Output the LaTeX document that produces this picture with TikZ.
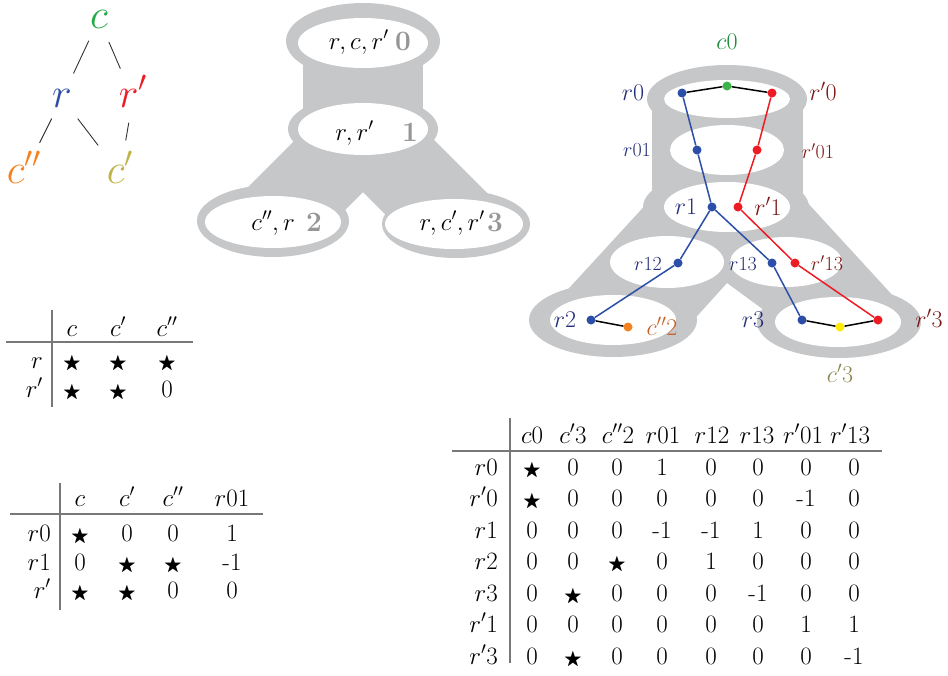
\RequirePackage{fix-cm}
\documentclass[tikz,border=0pt]{standalone}
\usepackage{amssymb}
\usepackage{graphicx}
\definecolor{mygray}{RGB}{198,199,201}
\definecolor{numgray}{RGB}{150,150,150}
\definecolor{rulegray}{RGB}{120,120,120}
\definecolor{tgreen}{RGB}{40,170,75}
\definecolor{tblue}{RGB}{45,80,165}
\definecolor{tred}{RGB}{235,30,40}
\definecolor{torange}{RGB}{245,130,32}
\definecolor{tolive}{RGB}{190,180,70}
\definecolor{navy}{RGB}{35,45,120}
\definecolor{maroon}{RGB}{125,25,25}
\definecolor{lgreen}{RGB}{30,140,60}
\definecolor{lorange}{RGB}{200,100,40}
\definecolor{lolive}{RGB}{140,135,80}
\definecolor{dblue}{RGB}{43,78,168}
\definecolor{dred}{RGB}{237,28,36}
\definecolor{dgreen}{RGB}{60,180,75}
\definecolor{dorange}{RGB}{245,130,32}
\definecolor{dyellow}{RGB}{255,235,0}
\newcommand{\mystar}{\scalebox{0.75}{$\bigstar$}}
\newcommand{\tabrow}[6]{%
  \node[tab, anchor=east] (#1) at (#3,#2) {$#4$};
  \foreach \vv [count=\j from 0] in {#6} {%
    \pgfmathsetmacro{\xx}{{#5}[\j]}%
    \node[tab] (#1-\j) at (\xx,#2) {\vv};
  }%
}
\begin{document}
\begin{tikzpicture}[x=1pt,y=-1pt,
  tree/.style={font=\fontsize{42}{46}\selectfont, inner sep=0pt, text height=18pt, text depth=0pt},
  tab/.style={font=\fontsize{25}{28}\selectfont, inner sep=0pt, text height=16pt, text depth=0pt},
  mlab/.style={font=\fontsize{25}{28}\selectfont, inner sep=0pt},
  mnum/.style={font=\fontsize{28}{30}\selectfont\bfseries, text=numgray, inner sep=0pt},
  lab/.style={font=\fontsize{24}{26}\selectfont, inner sep=0pt, text height=15pt, text depth=0pt},
  slab/.style={font=\fontsize{20}{22}\selectfont, inner sep=0pt, text height=13pt, text depth=0pt},
  dot/.style={circle, inner sep=0pt, minimum size=9pt},
  tline/.style={draw=black!80, line width=0.9pt},
  rule/.style={draw=rulegray, line width=1.1pt},
  pth/.style={line width=1.5pt}
]
\useasboundingbox (0,0) rectangle (948,675);

% ---------- tree ----------
\node[tree, text=tgreen] (tc) at (99,19) {$c$};
\node[tree, text=tblue] (tr) at (62,98) {$r$};
\node[tree, text=tred] (trp) at (133,98) {$r'$};
\node[tree, text=torange] (tcpp) at (24,174) {$c''$};
\node[tree, text=tolive] (tcp) at (120,174) {$c'$};
\draw[tline, shorten <=24pt, shorten >=27pt] (tc.center) -- (tr.center);
\draw[tline, shorten <=25pt, shorten >=32pt] (tc.center) -- (trp.center);
\draw[tline, shorten <=23pt, shorten >=35pt] (tr.center) -- (tcpp.center);
\draw[tline, shorten <=26pt, shorten >=36pt] (tr.center) -- (tcp.center);
\draw[tline, shorten <=25pt, shorten >=34pt] (trp.center) -- (tcp.center);

% ---------- middle tree decomposition ----------
\fill[mygray] (303,60) rectangle (423,115);
\fill[mygray] (300,135) -- (429,135) -- (494,200) -- (390,219) -- (363,192) -- (336,219) -- (235,200) -- cycle;
\fill[mygray] (363,41) ellipse [x radius=77pt, y radius=38pt];
\fill[mygray] (363,129) ellipse [x radius=75pt, y radius=34pt];
\fill[mygray] (273,221) ellipse [x radius=76pt, y radius=36pt];
\fill[mygray] (456,224) ellipse [x radius=74pt, y radius=34pt];
\fill[white] (363,43) ellipse [x radius=65pt, y radius=25pt];
\fill[white] (363,129) ellipse [x radius=65pt, y radius=26pt];
\fill[white] (273,222) ellipse [x radius=68pt, y radius=26pt];
\fill[white] (454,224) ellipse [x radius=69pt, y radius=25pt];
\node[mlab, anchor=base east] (b0) at (389,49) {$r,c,r'$};
\node[mnum, anchor=base west] (n0) at (395,50) {0};
\node[mlab, anchor=base east] (b1) at (374,140) {$r,r'$};
\node[mnum, anchor=base west] (n1) at (402,141) {1};
\node[mlab, anchor=base east] (b2) at (295,230) {$c'',r$};
\node[mnum, anchor=base west] (n2) at (306,231) {2};
\node[mlab, anchor=base east] (b3) at (485,230) {$r,c',r'$};
\node[mnum, anchor=base west] (n3) at (487,231) {3};

% ---------- right refined decomposition ----------
\fill[mygray] (652,95) rectangle (803,215);
\fill[mygray] (650,200) -- (805,200) -- (895,298) -- (772,316) -- (727,283) -- (690,324) -- (560,298) -- cycle;
\fill[mygray] (727,99) ellipse [x radius=80pt, y radius=34pt];
\fill[mygray] (726,207) ellipse [x radius=83pt, y radius=36pt];
\fill[mygray] (613,320) ellipse [x radius=84pt, y radius=37pt];
\fill[mygray] (839,322) ellipse [x radius=82pt, y radius=36pt];
\fill[white] (727,99) ellipse [x radius=63pt, y radius=19pt];
\fill[white] (727,150) ellipse [x radius=57pt, y radius=25pt];
\fill[white] (727,207) ellipse [x radius=63pt, y radius=25pt];
\fill[white] (667,262) ellipse [x radius=57pt, y radius=26pt];
\fill[white] (786,262) ellipse [x radius=56pt, y radius=25pt];
\fill[white] (613,320) ellipse [x radius=63pt, y radius=25pt];
\fill[white] (838,322) ellipse [x radius=63pt, y radius=25pt];

\node[dot, fill=dblue] (r0) at (682,93) {};
\node[dot, fill=dgreen] (c0) at (727,86) {};
\node[dot, fill=dred] (rp0) at (772,93) {};
\node[dot, fill=dblue] (r01) at (697,150) {};
\node[dot, fill=dred] (rp01) at (757,150) {};
\node[dot, fill=dblue] (r1) at (712,207) {};
\node[dot, fill=dred] (rp1) at (738,207) {};
\node[dot, fill=dblue] (r12) at (678,263) {};
\node[dot, fill=dblue] (r13) at (772,263) {};
\node[dot, fill=dred] (rp13) at (795,263) {};
\node[dot, fill=dblue] (r2) at (591,320) {};
\node[dot, fill=dorange] (cpp2) at (628,327) {};
\node[dot, fill=dblue] (r3) at (802,320) {};
\node[dot, fill=dyellow] (cp3) at (840,327) {};
\node[dot, fill=dred] (rp3) at (878,320) {};

\draw[pth, black] (r0) -- (c0) -- (rp0);
\draw[pth, dblue] (r0) -- (r01) -- (r1) -- (r12) -- (r2);
\draw[pth, dblue] (r1) -- (r13) -- (r3);
\draw[pth, dred] (rp0) -- (rp01) -- (rp1) -- (rp13) -- (rp3);
\draw[pth, black] (r2) -- (cpp2);
\draw[pth, black] (r3) -- (cp3) -- (rp3);

\node[lab, text=lgreen] (lc0) at (727,42) {$c0$};
\node[lab, text=navy] (lr0) at (633,93) {$r0$};
\node[lab, text=maroon] (lrp0) at (823,93) {$r'0$};
\node[slab, text=navy] (lr01) at (637,150) {$r01$};
\node[slab, text=maroon] (lrp01) at (818,152) {$r'01$};
\node[lab, text=navy] (lr1) at (686,207) {$r1$};
\node[lab, text=maroon] (lrp1) at (768,208) {$r'1$};
\node[slab, text=navy] (lr12) at (648,264) {$r12$};
\node[slab, text=navy] (lr13) at (743,264) {$r13$};
\node[slab, text=maroon] (lrp13) at (827,264) {$r'13$};
\node[lab, text=navy] (lr2) at (565,320) {$r2$};
\node[lab, text=lorange] (lcpp2) at (662,328) {$c''2$};
\node[lab, text=navy] (lr3) at (753,320) {$r3$};
\node[lab, text=maroon] (lrp3) at (929,320) {$r'3$};
\node[lab, text=lolive] (lcp3) at (840,375) {$c'3$};

% ---------- table 1 ----------
\coordinate (A1t) at (52,310); \coordinate (A1b) at (52,407);
\coordinate (A1l) at (6,342); \coordinate (A1r) at (193,342);
\draw[rule] (A1t) -- (A1b);
\draw[rule] (A1l) -- (A1r);
\node[tab] (ha1) at (72,328) {$c$};
\node[tab] (ha2) at (118,328) {$c'$};
\node[tab] (ha3) at (167,328) {$c''$};
\tabrow{ta1}{360}{43}{r}{72,118,167}{\mystar,\mystar,\mystar}
\tabrow{ta2}{389}{43}{r'}{72,118,167}{\mystar,\mystar,0}

% ---------- table 2 ----------
\coordinate (A2t) at (60,483); \coordinate (A2b) at (60,610);
\coordinate (A2l) at (10,514); \coordinate (A2r) at (263,514);
\draw[rule] (A2t) -- (A2b);
\draw[rule] (A2l) -- (A2r);
\node[tab] (hb1) at (80,498) {$c$};
\node[tab] (hb2) at (127,498) {$c'$};
\node[tab] (hb3) at (173,498) {$c''$};
\node[tab] (hb4) at (232,498) {$r01$};
\tabrow{tb1}{533}{51}{r0}{80,127,173,232}{\mystar,0,0,1}
\tabrow{tb2}{562}{51}{r1}{80,127,173,232}{0,\mystar,\mystar,-1}
\tabrow{tb3}{590}{51}{r'}{80,127,173,232}{\mystar,\mystar,0,0}

% ---------- big table ----------
\coordinate (A3t) at (510,418); \coordinate (A3b) at (510,663);
\coordinate (A3l) at (452,451); \coordinate (A3r) at (882,451);
\draw[rule] (A3t) -- (A3b);
\draw[rule] (A3l) -- (A3r);
\foreach \hx/\hlab [count=\k] in {532/{$c0$},573/{$c'3$},618/{$c''2$},663/{$r01$},712/{$r12$},757/{$r13$},803/{$r'01$},850/{$r'13$}}
  \node[tab] (hc\k) at (\hx,435) {\hlab};
\tabrow{tc1}{467}{498}{r0}{532,573,617,662,711,758,806,854}{\mystar,0,0,1,0,0,0,0}
\tabrow{tc2}{498}{498}{r'0}{532,573,617,662,711,758,806,854}{\mystar,0,0,0,0,0,-1,0}
\tabrow{tc3}{530}{498}{r1}{532,573,617,662,711,758,806,854}{0,0,0,-1,-1,1,0,0}
\tabrow{tc4}{561}{498}{r2}{532,573,617,662,711,758,806,854}{0,0,\mystar,0,1,0,0,0}
\tabrow{tc5}{593}{498}{r3}{532,573,617,662,711,758,806,854}{0,\mystar,0,0,0,-1,0,0}
\tabrow{tc6}{624}{498}{r'1}{532,573,617,662,711,758,806,854}{0,0,0,0,0,0,1,1}
\tabrow{tc7}{656}{498}{r'3}{532,573,617,662,711,758,806,854}{0,\mystar,0,0,0,0,0,-1}
\end{tikzpicture}
\end{document}
